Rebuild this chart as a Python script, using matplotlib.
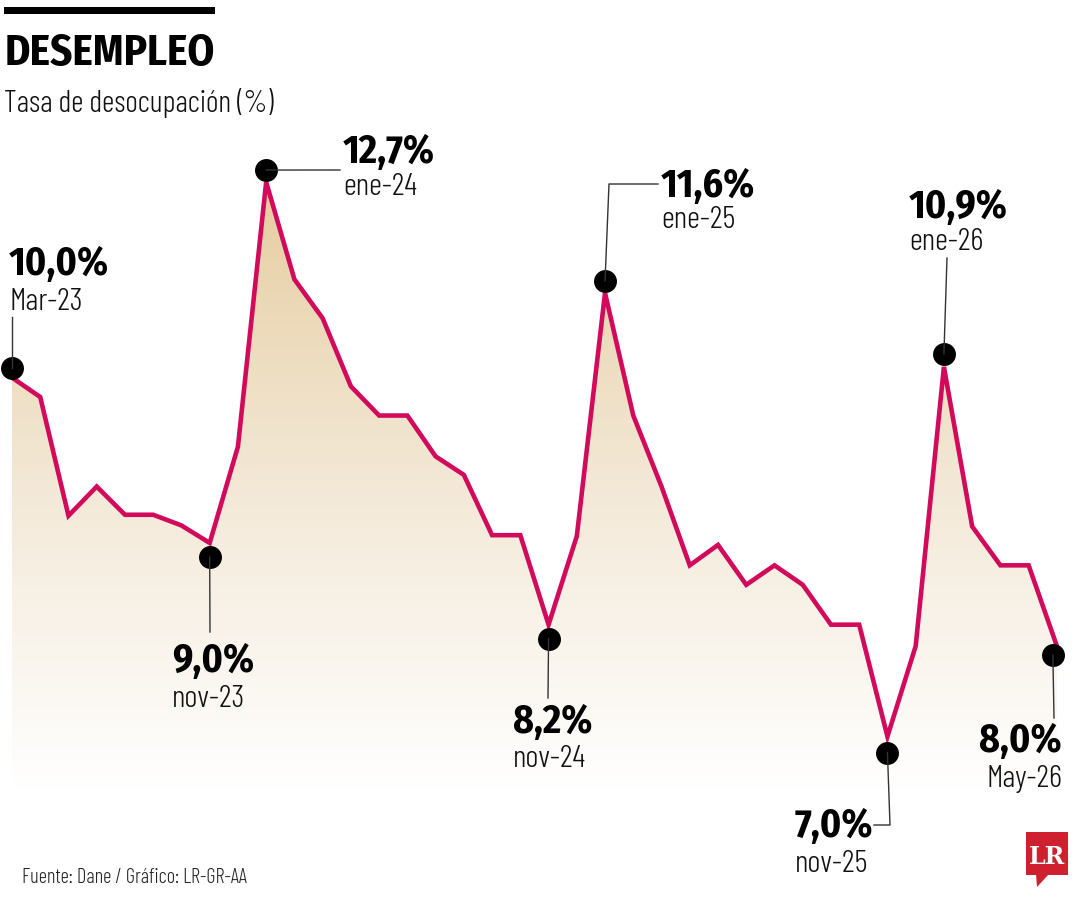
import matplotlib
matplotlib.use("Agg")
import matplotlib.pyplot as plt
import matplotlib.transforms as mtransforms
from matplotlib import font_manager
from matplotlib.patches import Rectangle, Polygon, PathPatch
from matplotlib.lines import Line2D
from matplotlib.colors import LinearSegmentedColormap
import numpy as np

# ---------------- data ----------------
tasa = [10.73, 10.53, 9.31, 9.61, 9.32, 9.32, 9.21, 9.03, 10.02, 12.74,
        11.74, 11.34, 10.64, 10.34, 10.34, 9.92, 9.73, 9.11, 9.11, 8.19,
        9.10, 11.60, 10.34, 9.61, 8.80, 9.01, 8.60, 8.80, 8.60, 8.19,
        8.19, 7.04, 7.97, 10.84, 9.20, 8.80, 8.80, 7.97]
ann_idx = [0, 9, 7, 21, 19, 33, 31, 37]
ann_value = ["10,0%", "12,7%", "9,0%", "11,6%", "8,2%", "10,9%", "7,0%", "8,0%"]
ann_date = ["Mar-23", "ene-24", "nov-23", "ene-25", "nov-24", "ene-26", "nov-25", "May-26"]
title = "DESEMPLEO"
subtitle = "Tasa de desocupación (%)"
source = "Fuente: Dane / Gráfico: LR-GR-AA"

# ---------------- fonts ----------------
names = {f.name for f in font_manager.fontManager.ttflist}
def pick(cands, default="DejaVu Sans"):
    for c in cands:
        if c in names:
            return c
    return default
LIGHT = pick(["Barlow Condensed", "Fira Sans Extra Condensed", "Roboto Condensed"])
BOLD = pick(["Fira Sans Condensed", "Roboto Condensed", "Liberation Sans Narrow"])

W, H = 1080, 900
fig = plt.figure(figsize=(W / 100, H / 100), dpi=100)
ax = fig.add_axes([0, 0, 1, 1])
ax.set_axis_off()
fig.canvas.draw()
R = fig.canvas.get_renderer()

def fit_size(s, fam, weight, target_w, base=20):
    t = fig.text(0, 0, s, family=fam, fontweight=weight, fontsize=base)
    w = t.get_window_extent(R).width
    t.remove()
    return base * target_w / w

n = len(tasa)
x = np.arange(n)
XL = (-12 / 28.24, (W - 12) / 28.24)
YL = ((1421.4 - H) / 97.28, 1421.4 / 97.28)
ax.set_xlim(*XL)
ax.set_ylim(*YL)

def P(px, py):
    return (px / W, 1 - py / H)

# gradient area under the line
cmap = LinearSegmentedColormap.from_list("g", ["#e5cc9e", "#f3e8d6", "#ffffff"])
top_v = (1421.4 - 170) / 97.28
bot_v = (1421.4 - 790) / 97.28
grad = np.linspace(0, 1, 256).reshape(-1, 1)
im = ax.imshow(grad, cmap=cmap, aspect="auto",
               extent=[x[0], x[-1], bot_v, top_v], origin="upper", zorder=1)
poly = ax.fill_between(x, tasa, YL[0], color="none", lw=0)
clip = PathPatch(poly.get_paths()[0], transform=ax.transData, facecolor="none", edgecolor="none")
ax.add_patch(clip)
im.set_clip_path(clip)
ax.set_xlim(*XL)
ax.set_ylim(*YL)

ax.plot(x, tasa, color="#d20a5c", lw=3.3, solid_joinstyle="miter", zorder=3)

# annotation layout (pixels)
offs = {0: (0, -10), 9: (0, -12), 7: (0, 14), 21: (0, -12),
        19: (0, 14), 33: (0, -13), 31: (0, 16), 37: (-4, 9)}
leaders = {0: [(12, 317)], 9: [(340, 170)], 7: [(210, 632)],
           21: [(609, 184), (658, 184)], 19: [(548, 698)],
           33: [(947, 258)], 31: [(890, 825), (874, 825)], 37: [(1054, 718)]}
text_pos = {0: (9, 275, 310, "left"), 9: (343, 163, 195, "left"),
            7: (172, 672, 707, "left"), 21: (661, 197, 228, "left"),
            19: (513, 733, 767, "left"), 33: (909, 218, 250, "left"),
            31: (795, 837, 872, "left"), 37: (1062, 752, 787, "right")}

val_size = fit_size("12,7%", BOLD, "bold", 92)
date_size = fit_size("ene-24", LIGHT, 300, 74)

fig.canvas.draw()
for i, val, date in zip(ann_idx, ann_value, ann_date):
    dx, dy = offs[i]
    tr = ax.transData + mtransforms.ScaledTranslation(dx / 100, -dy / 100, fig.dpi_scale_trans)
    ax.plot([x[i]], [tasa[i]], "o", color="black", ms=15.5, transform=tr, zorder=5)
    cx, cy = tr.transform((x[i], tasa[i]))
    pts = [(cx, H - cy)] + leaders[i]
    fig.add_artist(Line2D([p[0] / W for p in pts], [1 - p[1] / H for p in pts],
                          transform=fig.transFigure, color="#333333", lw=1.0, zorder=4))
    tx, b1, b2, ha = text_pos[i]
    fig.text(*P(tx, b1), val, fontsize=val_size, fontweight="bold", family=BOLD,
             ha=ha, va="baseline", color="black")
    fig.text(*P(tx, b2), date, fontsize=date_size, fontweight=300, family=LIGHT,
             ha=ha, va="baseline", color="#111111")

# header
fig.add_artist(Rectangle(P(4, 14), 211 / W, 7 / H, transform=fig.transFigure,
                         color="black", lw=0))
fig.text(*P(5, 65), title, fontsize=fit_size(title, BOLD, "bold", 210), fontweight="bold",
         family=BOLD, va="baseline", ha="left", color="black")
fig.text(*P(4, 112), subtitle, fontsize=fit_size(subtitle, LIGHT, 300, 270), fontweight=300,
         family=LIGHT, va="baseline", ha="left", color="#111111")
fig.text(*P(22, 883), source, fontsize=fit_size(source, LIGHT, 300, 225), fontweight=300,
         family=LIGHT, va="baseline", ha="left", color="#222222")

# LR logo
red = "#cf2030"
fig.add_artist(Rectangle(P(1026, 875), 42 / W, 43 / H, transform=fig.transFigure,
                         color=red, lw=0))
fig.add_artist(Polygon([P(1036, 874), P(1049, 874), P(1037, 887)], closed=True,
                       transform=fig.transFigure, color=red, lw=0))
fig.text(*P(1047, 864), "LR", fontsize=17, fontweight="bold", family="DejaVu Serif",
         ha="center", va="baseline", color="white")

fig.savefig("out.png", dpi=100)
